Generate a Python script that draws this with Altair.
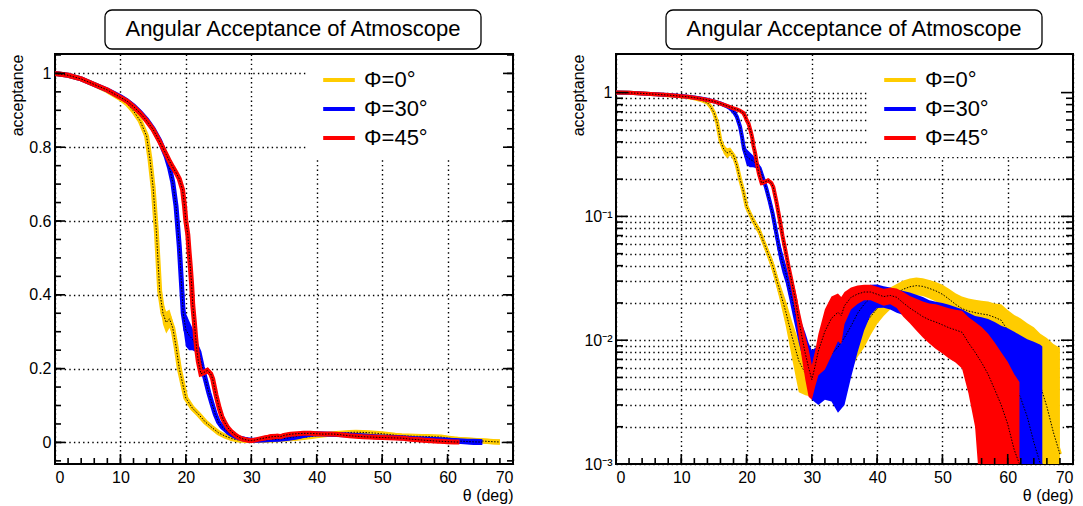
import altair as alt
import pandas as pd

FONT = "Liberation Sans"

series_names = ["Φ=0°", "Φ=30°", "Φ=45°"]
series_colors = ["#ffcc00", "#0000ff", "#ff0000"]

title_text = "Angular Acceptance of Atmoscope"
x_title = "θ (deg)"
y_title = "acceptance"

# ---- Φ=0° ----
theta_0 = [0, 2, 4, 6, 8, 10, 11, 12, 13, 14,
           14.5, 15, 15.5, 16, 16.5, 17, 17.5, 18, 18.5, 19, 19.5,
           20, 21, 22, 23, 24, 25, 26, 27, 28, 29,
           30, 31, 32, 33, 34, 35, 36, 37, 38, 39,
           40, 41, 42, 43, 44, 45, 46, 47, 48, 49,
           50, 51, 52, 53, 54, 55, 56, 57, 58, 59,
           60, 61, 62, 63, 64, 65, 66, 67, 68]
acc_0 = [1.000, 0.995, 0.985, 0.970, 0.953, 0.932, 0.918, 0.898, 0.872, 0.830,
         0.770, 0.690, 0.570, 0.410, 0.350, 0.325, 0.335, 0.310, 0.260, 0.200, 0.160,
         0.120, 0.093, 0.075, 0.055, 0.040, 0.026, 0.017, 0.0105, 0.0068, 0.0054,
         0.0050, 0.0050, 0.0055, 0.0062, 0.0072, 0.0083, 0.0097, 0.0113, 0.0132, 0.0155,
         0.0180, 0.0202, 0.0222, 0.0240, 0.0258, 0.0270, 0.0276, 0.0272, 0.0262, 0.0250,
         0.0235, 0.0215, 0.0195, 0.0180, 0.0172, 0.0167, 0.0163, 0.0160, 0.0153, 0.0145,
         0.0120, 0.0095, 0.0075, 0.0062, 0.0052, 0.0043, 0.0029, 0.0018, 0.0012]
err_0 = [0.003, 0.003, 0.003, 0.004, 0.004, 0.005, 0.005, 0.006, 0.007, 0.008,
         0.010, 0.012, 0.015, 0.025, 0.030, 0.030, 0.025, 0.020, 0.015, 0.012, 0.010,
         0.008, 0.007, 0.006, 0.005, 0.005, 0.004, 0.004, 0.0035, 0.003, 0.0018,
         0.0015, 0.0015, 0.002, 0.0025, 0.003, 0.0035, 0.004, 0.004, 0.0045, 0.0045,
         0.0045, 0.0045, 0.0045, 0.0045, 0.0045, 0.0045, 0.0045, 0.0045, 0.0045, 0.0045,
         0.0045, 0.0045, 0.0045, 0.0045, 0.0045, 0.0045, 0.0045, 0.0045, 0.0045, 0.005,
         0.0055, 0.0065, 0.0075, 0.0075, 0.0075, 0.0070, 0.0075, 0.0075, 0.0075]

# ---- Φ=30° ----
theta_30 = [0, 2, 4, 6, 8, 10, 11, 12, 13, 14, 15, 16, 17,
            17.5, 18, 18.5, 19, 19.3, 19.6,
            20, 20.5, 21, 21.5, 22, 22.5, 23, 23.5, 24, 24.5, 25, 25.5, 26, 26.5,
            27, 27.5, 28, 28.5, 29, 29.5, 30,
            31, 32, 33, 34, 35, 36, 37, 38, 39, 40,
            41, 42, 43, 44, 45, 46, 47, 48, 49, 50,
            51, 52, 53, 54, 55, 56, 57, 58, 59, 60,
            61, 62, 63, 64, 65, 65.3]
acc_30 = [1.000, 0.995, 0.985, 0.970, 0.955, 0.937, 0.926, 0.912, 0.895, 0.875, 0.850, 0.818, 0.775,
          0.745, 0.705, 0.640, 0.530, 0.440, 0.350,
          0.305, 0.290, 0.280, 0.265, 0.245, 0.205, 0.170, 0.135, 0.105, 0.076, 0.055, 0.043, 0.035, 0.027,
          0.021, 0.0165, 0.0130, 0.0105, 0.0085, 0.0070, 0.0058,
          0.0060, 0.0068, 0.0077, 0.0088, 0.0105, 0.0130, 0.0165, 0.0195, 0.0220, 0.0232,
          0.0228, 0.0222, 0.0212, 0.0205, 0.0198, 0.0188, 0.0178, 0.0165, 0.0156, 0.0150,
          0.0143, 0.0135, 0.0128, 0.0115, 0.0102, 0.0095, 0.0088, 0.0078, 0.0066, 0.0057,
          0.0045, 0.0034, 0.0024, 0.0015, 0.0010, 0.0009]
err_30 = [0.003, 0.003, 0.003, 0.004, 0.004, 0.006, 0.007, 0.007, 0.007, 0.007, 0.007, 0.008, 0.009,
          0.010, 0.012, 0.015, 0.020, 0.030, 0.040,
          0.045, 0.040, 0.030, 0.020, 0.015, 0.015, 0.015, 0.015, 0.014, 0.012, 0.010, 0.008, 0.006, 0.005,
          0.0045, 0.004, 0.0035, 0.003, 0.003, 0.0025, 0.0025,
          0.003, 0.0035, 0.0045, 0.0062, 0.0075, 0.0080, 0.0085, 0.0075, 0.0060, 0.0050,
          0.0045, 0.0045, 0.0045, 0.0045, 0.0045, 0.0045, 0.0045, 0.0045, 0.0048, 0.0050,
          0.0050, 0.0050, 0.0050, 0.0052, 0.0055, 0.0058, 0.0060, 0.0062, 0.0065, 0.0068,
          0.0072, 0.0075, 0.0078, 0.0082, 0.0082, 0.0080]

# ---- Φ=45° ----
theta_45 = [0, 2, 4, 6, 8, 10, 11, 12, 13, 14, 15, 16, 17,
            17.5, 18, 18.5, 19, 19.5,
            19.8, 20, 20.3, 20.5, 20.7, 20.9, 21.05, 21.3, 21.5, 21.7, 21.9,
            22.3, 22.8, 23.3, 23.8, 24.1, 24.6, 25.1, 25.5, 25.9, 26.4, 26.9, 27.5,
            28, 28.5, 29, 29.5, 30, 30.5,
            31, 32, 33, 34, 34.5, 35,
            36, 37, 38, 39, 40, 41, 42, 43, 44, 45,
            46, 47, 48, 49, 50, 51, 52, 53, 54, 55,
            56, 57, 58, 59, 60, 61, 61.8]
acc_45 = [1.000, 0.995, 0.985, 0.970, 0.955, 0.935, 0.925, 0.910, 0.893, 0.872, 0.848, 0.815, 0.780,
          0.762, 0.746, 0.731, 0.714, 0.685,
          0.640, 0.600, 0.563, 0.515, 0.472, 0.423, 0.373, 0.326, 0.283, 0.247, 0.220,
          0.186, 0.190, 0.195, 0.186, 0.172, 0.129, 0.093, 0.070, 0.055, 0.040, 0.030, 0.021,
          0.0145, 0.0105, 0.0078, 0.0060, 0.0048, 0.0062,
          0.0082, 0.0118, 0.0150, 0.0168, 0.0158, 0.0190,
          0.0222, 0.0236, 0.0245, 0.0245, 0.0235, 0.0225, 0.0230, 0.0222, 0.0200, 0.0182,
          0.0168, 0.0155, 0.0146, 0.0140, 0.0133, 0.0126, 0.0121, 0.0116, 0.0095, 0.0080,
          0.0066, 0.0053, 0.0040, 0.0030, 0.0021, 0.0013, 0.0010]
err_45 = [0.003, 0.003, 0.003, 0.004, 0.004, 0.005, 0.005, 0.005, 0.005, 0.005, 0.005, 0.006, 0.006,
          0.006, 0.006, 0.007, 0.008, 0.008,
          0.008, 0.008, 0.008, 0.008, 0.008, 0.008, 0.008, 0.008, 0.008, 0.008, 0.008,
          0.008, 0.008, 0.008, 0.008, 0.008, 0.007, 0.006, 0.005, 0.005, 0.004, 0.004, 0.004,
          0.004, 0.0035, 0.003, 0.0025, 0.0015, 0.002,
          0.003, 0.0060, 0.0075, 0.0070, 0.0065, 0.0055,
          0.0045, 0.0040, 0.0035, 0.0035, 0.0035, 0.0035, 0.0035, 0.0040, 0.0045, 0.0045,
          0.0048, 0.0050, 0.0052, 0.0055, 0.0055, 0.0055, 0.0055, 0.0057, 0.0058, 0.0060,
          0.0062, 0.0060, 0.0056, 0.0050, 0.0046, 0.0040, 0.0036]

# ---- axis ticks ----
x_major = [0, 10, 20, 30, 40, 50, 60, 70]
x_minor = [0, 2, 4, 6, 8, 10, 12, 14, 16, 18, 20, 22, 24, 26, 28, 30, 32, 34, 36, 38,
           40, 42, 44, 46, 48, 50, 52, 54, 56, 58, 60, 62, 64, 66, 68, 70]
lin_major = [0, 0.2, 0.4, 0.6, 0.8, 1.0]
lin_minor = [-0.05, 0, 0.05, 0.1, 0.15, 0.2, 0.25, 0.3, 0.35, 0.4, 0.45, 0.5, 0.55,
             0.6, 0.65, 0.7, 0.75, 0.8, 0.85, 0.9, 0.95, 1.0, 1.05]
log_major = [0.001, 0.01, 0.1, 1]
log_minor = [0.002, 0.003, 0.004, 0.005, 0.006, 0.007, 0.008, 0.009,
             0.02, 0.03, 0.04, 0.05, 0.06, 0.07, 0.08, 0.09,
             0.2, 0.3, 0.4, 0.5, 0.6, 0.7, 0.8, 0.9]
log_grid = sorted(log_major + log_minor)

rows = []
for name, th, ac, er in zip(series_names, [theta_0, theta_30, theta_45],
                            [acc_0, acc_30, acc_45], [err_0, err_30, err_45]):
    assert len(th) == len(ac) == len(er), name
    for t, a, e in zip(th, ac, er):
        rows.append({"series": name, "theta": t, "acc": a,
                     "lo": a - e, "hi": a + e, "lo_log": max(a - e, 1e-4)})
df = pd.DataFrame(rows)

cscale = alt.Scale(domain=series_names, range=series_colors)

LOG_LABELS = ("datum.value > 0.99 && datum.value < 1.01 ? '1' : "
              "datum.value > 0.099 && datum.value < 0.101 ? '10⁻¹' : "
              "datum.value > 0.0099 && datum.value < 0.0101 ? '10⁻²' : "
              "datum.value > 0.00099 && datum.value < 0.00101 ? '10⁻³' : ''")


def panel(log, W, H):
    xs = alt.Scale(domain=[0, 70], nice=False, zero=False)
    if log:
        ys = alt.Scale(type="log", domain=[0.001, 2.05], nice=False)
        yvals, lexpr = log_grid, LOG_LABELS
        ymaj, ymin, lmaj, lmin = log_major, log_minor, 12, 7
        lo, lw = "lo_log", 4
    else:
        ys = alt.Scale(domain=[-0.0585, 1.0526], nice=False, zero=False)
        yvals, lexpr = lin_major, "format(datum.value, '~g')"
        ymaj, ymin, lmaj, lmin = lin_major, lin_minor, 10, 6
        lo, lw = "lo", 5

    common = dict(grid=True, gridColor="black", gridDash=[1.4, 3.2], gridWidth=1.4,
                  ticks=False, domain=False, labelFont=FONT, labelFontSize=16,
                  labelColor="black", titleFont=FONT, titleFontSize=16,
                  titleFontWeight="normal", titleColor="black")
    xaxis = alt.Axis(values=x_major, labelPadding=5, title=x_title,
                     titleX=W, titleY=23, titleAlign="right", titleBaseline="top",
                     **common)
    yaxis = alt.Axis(values=yvals, labelExpr=lexpr, labelOverlap=False,
                     labelPadding=4, labelBaseline="middle", title=y_title,
                     titleX=-30, titleY=0, titleAngle=270, titleAlign="right",
                     titleBaseline="bottom", **common)

    def X(f):
        return alt.X(f, type="quantitative", scale=xs, axis=xaxis)

    def Y(f):
        return alt.Y(f, type="quantitative", scale=ys, axis=yaxis)

    legend = alt.Legend(orient="none", legendX=266, legendY=8, title=None,
                        labelFont=FONT, labelFontSize=22, labelColor="black",
                        symbolType="stroke", symbolStrokeWidth=4, symbolSize=1000,
                        rowPadding=0, labelOffset=7, padding=0)

    layers = []
    # white legend background hiding the grid
    layers.append(alt.Chart(pd.DataFrame({"m": [0]})).mark_rect(fill="white").encode(
        x=alt.value(251), x2=alt.value(W - 1), y=alt.value(1), y2=alt.value(103)))

    for name, col in zip(series_names, series_colors):
        base = alt.Chart(df).transform_filter(alt.datum.series == name)
        layers.append(base.mark_area(color=col, opacity=1, clip=True).encode(
            x=X("theta"), y=Y(lo), y2=alt.Y2("hi")))
        layers.append(base.mark_line(strokeWidth=lw, clip=True).encode(
            x=X("theta"), y=Y("acc"),
            color=alt.Color("series:N", scale=cscale, legend=legend)))
        layers.append(base.mark_line(color="black", strokeWidth=1, strokeDash=[1.5, 1.5],
                                     clip=True).encode(x=X("theta"), y=Y("acc")))

    def xticks(vals, length):
        return alt.Chart(pd.DataFrame({"tv": vals})).mark_rule(
            color="black", strokeWidth=1.6).encode(
            x=X("tv"), y=alt.value(H), y2=alt.value(H - length))

    def yticks(vals, length, right):
        x1, x2 = (W, W - length) if right else (0, length)
        return alt.Chart(pd.DataFrame({"tv": vals})).mark_rule(
            color="black", strokeWidth=1.6).encode(
            y=Y("tv"), x=alt.value(x1), x2=alt.value(x2))

    layers += [xticks(x_major, 10), xticks(x_minor, 6),
               yticks(ymaj, lmaj, False), yticks(ymin, lmin, False),
               yticks(ymaj, lmaj, True), yticks(ymin, lmin, True)]

    tdf = pd.DataFrame({"label": [title_text]})
    layers.append(alt.Chart(tdf).mark_rect(fill="white", stroke="black", strokeWidth=1.3,
                                           cornerRadius=7).encode(
        x=alt.value(50), x2=alt.value(426), y=alt.value(-44), y2=alt.value(-5)))
    layers.append(alt.Chart(tdf).mark_text(font=FONT, fontSize=22, color="black",
                                           align="center", baseline="middle").encode(
        x=alt.value(238), y=alt.value(-25), text="label:N"))

    return alt.layer(*layers).properties(width=W, height=H)


left = panel(False, 458, 410)
right = panel(True, 457, 410)

chart = (alt.hconcat(left, right, spacing=54)
         .resolve_scale(color="independent")
         .configure_view(stroke="black", strokeWidth=2)
         .properties(padding=0, background="white"))

chart.save("out.html", embed_options={"renderer": "svg", "actions": False})
